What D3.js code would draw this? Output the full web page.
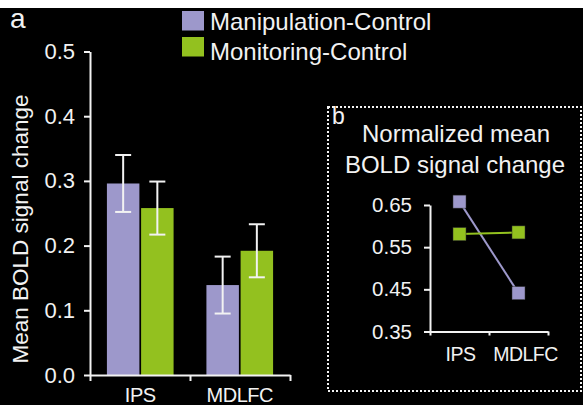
<!DOCTYPE html>
<html>
<head>
<meta charset="utf-8">
<script src="https://cdn.jsdelivr.net/npm/d3@7"></script>
<style>
  html, body { margin: 0; padding: 0; background: #fff; }
  svg { display: block; }
  text { font-family: 'Liberation Sans', Arial, sans-serif; fill: #f2f2f2; }
</style>
</head>
<body>
<div id="chart"></div>
<script>
// data
const regions = ['IPS', 'MDLFC']
const seriesNames = ['Manipulation-Control', 'Monitoring-Control']
const seriesColors = ['#9d98cb', '#93c11f']
const manipulationMean = [0.296, 0.139]
const manipulationErr = [0.044, 0.044]
const monitoringMean = [0.258, 0.192]
const monitoringErr = [0.041, 0.041]
const barTicks = [0.0, 0.1, 0.2, 0.3, 0.4, 0.5]
const normManipulation = [0.658, 0.441]
const normMonitoring = [0.581, 0.585]
const normTicks = [0.35, 0.45, 0.55, 0.65]

const W = 583, H = 405
const svg = d3.select('#chart').append('svg')
  .attr('width', W)
  .attr('height', H)

// black panel under an 8px white strip
svg.append('rect')
  .attr('x', 0).attr('y', 8)
  .attr('width', W).attr('height', H - 8)
  .attr('fill', '#000')

const white = '#f2f2f2'

// ---------- panel a ----------
const y = d3.scaleLinear().domain([0, 0.5]).range([375, 51.5])
const x0 = d3.scaleBand().domain(regions).range([90, 290]).paddingInner(0.33).paddingOuter(0.17)
const x1 = d3.scaleBand().domain(seriesNames).range([0, x0.bandwidth()]).paddingInner(0.05)

const barData = regions.flatMap((r, i) => [
  { region: r, series: seriesNames[0], value: manipulationMean[i], err: manipulationErr[i] },
  { region: r, series: seriesNames[1], value: monitoringMean[i], err: monitoringErr[i] }
])
const color = d3.scaleOrdinal().domain(seriesNames).range(seriesColors)

const gA = svg.append('g')

gA.selectAll('rect.bar')
  .data(barData)
  .join('rect')
  .attr('class', 'bar')
  .attr('x', d => x0(d.region) + x1(d.series))
  .attr('y', d => y(d.value))
  .attr('width', x1.bandwidth())
  .attr('height', d => y(0) - y(d.value))
  .attr('fill', d => color(d.series))

// error bars
const errG = gA.selectAll('g.err')
  .data(barData)
  .join('g')
  .attr('class', 'err')
  .attr('transform', d => `translate(${x0(d.region) + x1(d.series) + x1.bandwidth() / 2},0)`)
  .attr('stroke', white)
  .attr('stroke-width', 2)

errG.append('line')
  .attr('y1', d => y(d.value + d.err)).attr('y2', d => y(d.value - d.err))
errG.append('line')
  .attr('x1', -8).attr('x2', 8)
  .attr('y1', d => y(d.value + d.err)).attr('y2', d => y(d.value + d.err))
errG.append('line')
  .attr('x1', -8).attr('x2', 8)
  .attr('y1', d => y(d.value - d.err)).attr('y2', d => y(d.value - d.err))

// y axis
gA.append('g')
  .attr('class', 'axA')
  .attr('transform', 'translate(90,0)')
  .call(d3.axisLeft(y).tickValues(barTicks).tickFormat(d3.format('.1f')).tickSize(6).tickSizeOuter(0).tickPadding(9))
// x axis
gA.append('g')
  .attr('transform', 'translate(0,375)')
  .call(d3.axisBottom(d3.scaleLinear().domain([0, 2]).range([90, 290])).tickValues([0, 1, 2]).tickFormat('').tickSize(6).tickSizeOuter(0))

gA.selectAll('text.xlab')
  .data(regions)
  .join('text')
  .attr('class', 'xlab')
  .attr('x', d => x0(d) + x0.bandwidth() / 2)
  .attr('y', 402)
  .attr('text-anchor', 'middle')
  .style('font-size', '20px')
  .attr('letter-spacing', -0.5)
  .text(d => d)

gA.append('text')
  .attr('transform', 'translate(28,229) rotate(-90)')
  .attr('text-anchor', 'middle')
  .style('font-size', '22.5px')
  .text('Mean BOLD signal change')

svg.append('text')
  .attr('x', 10).attr('y', 28)
  .style('font-size', '28px')
  .text('a')

// legend
const legend = svg.append('g')
seriesNames.forEach((s, i) => {
  legend.append('rect')
    .attr('x', 182).attr('y', 11 + i * 26)
    .attr('width', 22).attr('height', 19.5)
    .attr('fill', seriesColors[i])
  legend.append('text')
    .attr('x', 210).attr('y', 30 + i * 29.5)
    .style('font-size', '24px')
    .text(s)
})

// ---------- panel b ----------
svg.append('rect')
  .attr('x', 328).attr('y', 107)
  .attr('width', 253).attr('height', 284)
  .attr('fill', 'none')
  .attr('stroke', white)
  .attr('stroke-width', 2)
  .attr('stroke-dasharray', '2,2')

svg.append('text')
  .attr('x', 332).attr('y', 124)
  .style('font-size', '23px')
  .text('b')

svg.append('text')
  .attr('x', 456).attr('y', 142)
  .attr('text-anchor', 'middle')
  .style('font-size', '24px')
  .text('Normalized mean')
svg.append('text')
  .attr('x', 455).attr('y', 173)
  .attr('text-anchor', 'middle')
  .style('font-size', '24px')
  .text('BOLD signal change')

const yb = d3.scaleLinear().domain([0.35, 0.65]).range([331.5, 205])
const xb = d3.scaleBand().domain(regions).range([430, 548]).padding(0)

const gB = svg.append('g')
gB.append('g')
  .attr('class', 'axB')
  .attr('transform', 'translate(430,0)')
  .call(d3.axisLeft(yb).tickValues(normTicks).tickFormat(d3.format('.2f')).tickSize(6).tickSizeOuter(0).tickPadding(12))
gB.append('g')
  .attr('transform', 'translate(0,331.5)')
  .call(d3.axisBottom(d3.scaleLinear().domain([0, 2]).range([430, 548])).tickValues([0, 1, 2]).tickFormat('').tickSize(4).tickSizeOuter(0))

gB.selectAll('text.xlabb')
  .data(regions)
  .join('text')
  .attr('class', 'xlabb')
  .attr('x', d => xb(d) + xb.bandwidth() / 2 + (d === 'MDLFC' ? 7 : 1))
  .attr('y', 361)
  .attr('text-anchor', 'middle')
  .style('font-size', '19.5px')
  .attr('letter-spacing', -0.5)
  .text(d => d)

const normSeries = [normManipulation, normMonitoring]
const line = d3.line()
  .x((d, i) => xb(regions[i]) + xb.bandwidth() / 2)
  .y(d => yb(d))

normSeries.forEach((vals, k) => {
  gB.append('path')
    .datum(vals)
    .attr('d', line)
    .attr('fill', 'none')
    .attr('stroke', seriesColors[k])
    .attr('stroke-width', 2)
})
normSeries.forEach((vals, k) => {
  gB.selectAll(null)
    .data(vals)
    .join('rect')
    .attr('x', (d, i) => xb(regions[i]) + xb.bandwidth() / 2 - 6.5)
    .attr('y', d => yb(d) - 6.5)
    .attr('width', 13).attr('height', 13)
    .attr('fill', seriesColors[k])
    .attr('stroke', '#333')
    .attr('stroke-width', 0.5)
})

// axis styling
svg.selectAll('.domain, .tick line')
  .attr('stroke', white)
  .attr('stroke-width', 2)
svg.selectAll('.tick text')
  .style('fill', white)
  .style('font-family', "'Liberation Sans', Arial, sans-serif")
svg.selectAll('.axA .tick text').style('font-size', '22px')
svg.selectAll('.axB .tick text').style('font-size', '20.5px')
</script>
</body>
</html>
